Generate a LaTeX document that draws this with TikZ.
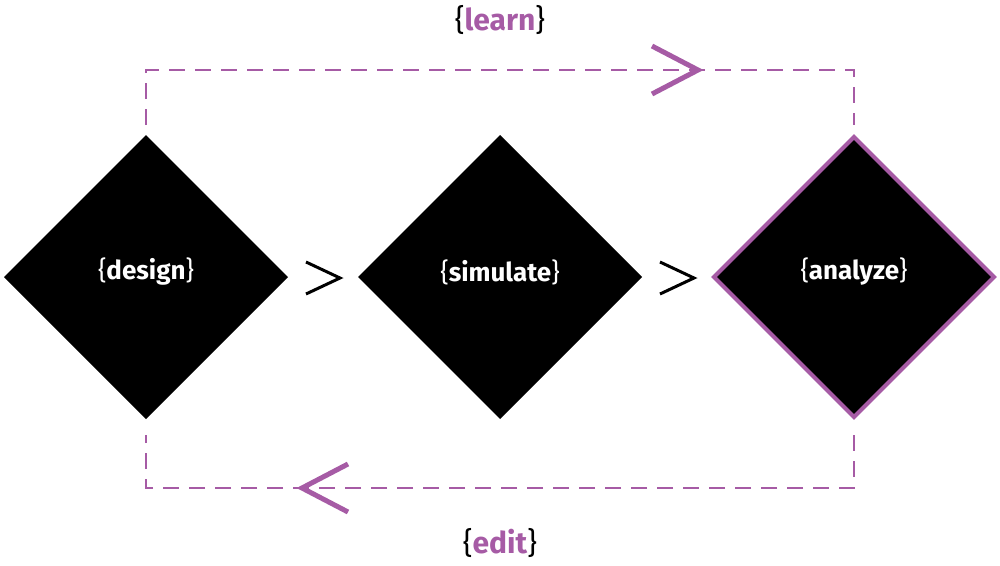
\documentclass[tikz,border=0pt]{standalone}
\usepackage{fontspec}
\setmainfont{Fira Sans}
\definecolor{purp}{HTML}{A65BA5}
\begin{document}
\begin{tikzpicture}[x=1pt,y=-1pt,
  dia/.style={fill=black,line width=4pt},
  lbl/.style={text=white,font=\fontsize{26}{30}\selectfont},
  loop/.style={purp,dashed,dash pattern=on 16pt off 10pt,line width=1.8pt},
  chev/.style={line width=5pt,purp,line cap=butt},
  sep/.style={line width=3pt,black}]
\useasboundingbox (0,0) rectangle (1000,565);
\fill[dia] (4,277) -- (146,135) -- (288,277) -- (146,419) -- cycle;
\fill[dia] (358,277) -- (500,135) -- (642,277) -- (500,419) -- cycle;
\filldraw[dia,draw=purp] (714,277) -- (854,137) -- (994,277) -- (854,417) -- cycle;
\node[lbl] (d) at (146,272) {\{\textbf{design}\}};
\node[lbl] (s) at (500,272) {\{\textbf{simulate}\}};
\node[lbl] (a) at (854,272) {\{\textbf{analyze}\}};
\coordinate (t1) at (146,125); \coordinate (t2) at (854,125);
\coordinate (b1) at (854,435); \coordinate (b2) at (146,435);
\draw[loop] (t1) -- (146,70) -- (854,70) -- (t2);
\draw[loop] (b1) -- (854,488) -- (146,488) -- (b2);
\draw[chev] (652,46) -- (698,70) -- (652,94);
\draw[chev] (348,464) -- (302,488) -- (348,512);
\draw[sep] (306,262) -- (340,278) -- (306,294);
\draw[sep] (660,262) -- (694,278) -- (660,294);
\node[font=\fontsize{30}{34}\selectfont] (l) at (500,20) {\{\textcolor{purp}{\textbf{learn}}\}};
\node[font=\fontsize{30}{34}\selectfont] (e) at (500,543) {\{\textcolor{purp}{\textbf{edit}}\}};
\end{tikzpicture}
\end{document}
